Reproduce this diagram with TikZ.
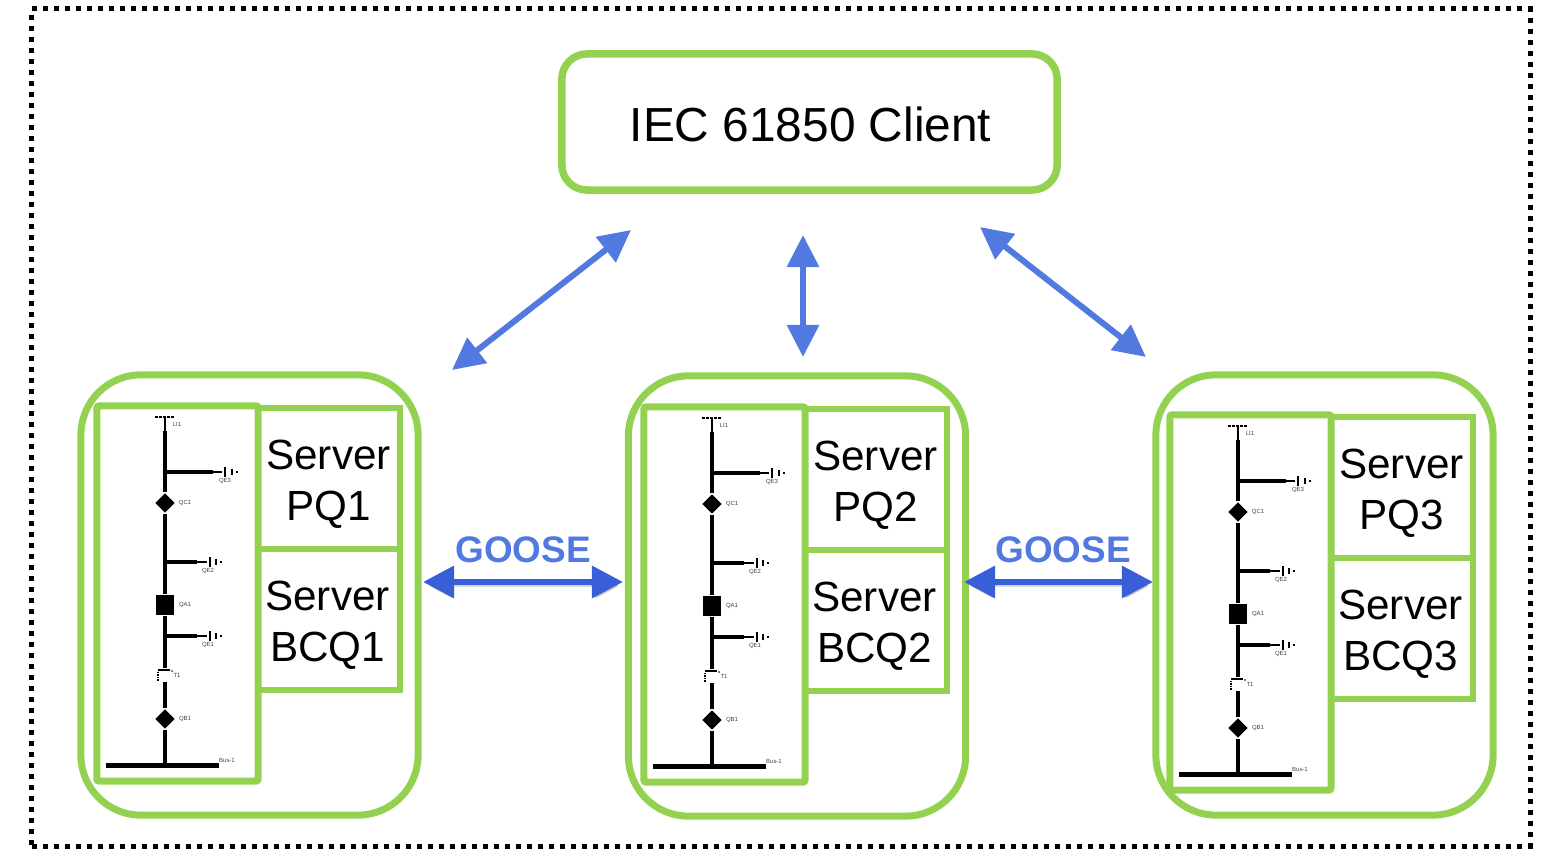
\documentclass[tikz,border=0pt]{standalone}
\usepackage{fontspec}
\setmainfont{Liberation Sans}
\usepackage{xcolor}
\definecolor{Green}{RGB}{146,210,80}
\definecolor{LightBlue}{RGB}{82,121,224}
\definecolor{DarkBlue}{RGB}{56,94,216}
\usetikzlibrary{arrows.meta, shapes.geometric}
\tikzset{
	frameBox/.style={draw=black, line width=0.05cm, dash pattern=on 0.05cm off 0.06cm, minimum width=14.98cm, minimum height=8.37cm, inner sep=0pt},
	clientBox/.style={draw=Green, line width=0.075cm, rounded corners=0.25cm, minimum width=4.95cm, minimum height=1.36cm},
	clientText/.style={inner sep=0pt, font=\fontsize{13.6}{16}\selectfont},
	unitBox/.style={draw=Green, line width=0.07cm, rounded corners=0.6cm, minimum width=3.37cm, minimum height=4.4cm},
	bayBox/.style={draw=Green, line width=0.07cm, rounded corners=0.02cm, minimum width=1.61cm, minimum height=3.75cm},
	serverBox/.style={draw=Green, line width=0.055cm, minimum width=1.42cm, minimum height=1.41cm, inner sep=0pt},
	serverText/.style={align=center, inner sep=0pt, font=\fontsize{12}{14.5}\selectfont},
	gooseText/.style={text=LightBlue, font=\fontsize{10.5}{12}\selectfont\bfseries, inner sep=0pt},
	clientArrow/.style={{Triangle[length=0.32cm, width=0.31cm]}-{Triangle[length=0.32cm, width=0.31cm]}, draw=LightBlue, fill=LightBlue, line width=0.06cm},
	gooseArrow/.style={{Triangle[length=0.31cm, width=0.31cm]}-{Triangle[length=0.31cm, width=0.31cm]}, draw=DarkBlue, fill=DarkBlue, line width=0.06cm,
		preaction={draw=black, fill=black, opacity=0.15, transform canvas={shift={(1,4)}}}},
	thickLine/.style={line width=0.035cm},
	thinLine/.style={line width=0.012cm},
	groundBar/.style={line width=0.012cm},
	tinyLabel/.style={text=black!75, font=\fontsize{1.7}{2}\selectfont, inner sep=0pt},
	switchGear/.style={diamond, fill=black, minimum size=0.2cm, inner sep=0pt},
	breaker/.style={rectangle, fill=black, minimum width=0.17cm, minimum height=0.2cm, inner sep=0pt},
	busBar/.style={rectangle, fill=black, minimum width=1.13cm, minimum height=0.05cm, inner sep=0pt},
	pics/bayunit/.style={code={
		% Rectangle
		\node[bayBox] (bay) at (177.5,593.5) {};
		\node[serverBox] (pq) at (329,478.5) {};
		\node[serverBox] (bcq) at (329,619.5) {};
		
		% Text
		\node[serverText] (pqText) at (328.5,484.5) {Server\\PQ#1};
		\node[serverText] (bcqText) at (327.5,625.5) {Server\\BCQ#1};
		
		% Single line
		\coordinate (source) at (165,417);
		\coordinate (spine) at (165,431);
		\coordinate (swtop) at (165,668);
		\coordinate (swbot) at (165,682);
		\node[switchGear] (qc) at (165,503) {};
		\node[breaker] (qa) at (165,605) {};
		\node[switchGear] (qb) at (165,719) {};
		\node[busBar] (bus) at (162.5,766) {};
		\draw[thinLine] (source) -- (spine);
		\draw[line width=0.02cm, dash pattern=on 0.03cm off 0.01cm] (155,417) -- (174,417);
		\draw[thickLine] (spine) -- (qc);
		\draw[thickLine] (qc) -- (qa);
		\draw[thickLine] (qa) -- (swtop);
		\draw[thickLine] (swbot) -- (qb);
		\draw[thickLine] (qb) -- (bus.north -| qb);
		\draw[thinLine] (158,670) -- (170,670);
		\draw[thinLine] (172,671) circle (0.015);
		\draw[line width=0.02cm, dash pattern=on 0.015cm off 0.01cm] (158,672) -- (158,682);
		
		% Earth switches
		\coordinate (qeThree) at (213,472);
		\coordinate (qeTwo) at (197,562);
		\coordinate (qeOne) at (197,636);
		\draw[thickLine] (165,472) -- (qeThree);
		\draw[thinLine] (qeThree) -- ++(9,0);
		\draw[groundBar] (225,467) -- (225,477) (232,469) -- (232,475) (237,471) -- (237,473);
		\draw[thickLine] (165,562) -- (qeTwo);
		\draw[thinLine] (qeTwo) -- ++(10,0);
		\draw[groundBar] (210,557) -- (210,567) (216,559) -- (216,565) (221,561) -- (221,563);
		\draw[thickLine] (165,636) -- (qeOne);
		\draw[thinLine] (qeOne) -- ++(10,0);
		\draw[groundBar] (210,631) -- (210,641) (216,633) -- (216,639) (221,635) -- (221,637);
		
		% Labels
		\node[tinyLabel] (lbllf) at (177,424) {LI1};
		\node[tinyLabel] (lblqethree) at (225,481) {QE3};
		\node[tinyLabel] (lblqc) at (185,503) {QC1};
		\node[tinyLabel] (lblqetwo) at (208,571) {QE2};
		\node[tinyLabel] (lblqa) at (185,605) {QA1};
		\node[tinyLabel] (lblqeone) at (208,645) {QE1};
		\node[tinyLabel] (lblt) at (177,675) {T1};
		\node[tinyLabel] (lblqb) at (185,719) {QB1};
		\node[tinyLabel] (lblbus) at (227,760) {Bus-1};
	}},
}
\begin{document}
\begin{tikzpicture}[x=0.01cm, y=-0.01cm]
		\useasboundingbox (0,0) rectangle (1541,849);
		
		% Rectangle
		\node[frameBox] (frame) at (781,427.5) {};
		\node[clientBox] (client) at (809.5,122) {};
		\node[unitBox] (unitOne) at (249.5,595) {};
		\node[unitBox] (unitTwo) at (797,596) {};
		\node[unitBox] (unitThree) at (1324.5,595) {};
		
		% Servers
		\pic (bayOne) at (0,0) {bayunit=1};
		\pic (bayTwo) at (547,1) {bayunit=2};
		\pic (bayThree) at (1073,9) {bayunit=3};
		
		% Text
		\node[clientText] (clientName) at (810.5,124) {IEC 61850 Client};
		\node[gooseText] (gooseLeft) at (523,550) {GOOSE};
		\node[gooseText] (gooseRight) at (1063,550) {GOOSE};
		
		% Arrow ends
		\coordinate (clientLeft) at (631,230);
		\coordinate (unitLeft) at (452,370);
		\coordinate (clientMid) at (803,235);
		\coordinate (unitMid) at (803,357);
		\coordinate (clientRight) at (980,227);
		\coordinate (unitRight) at (1146,357);
		\coordinate (gooseA) at (423,582);
		\coordinate (gooseB) at (623,582);
		\coordinate (gooseC) at (964,582);
		\coordinate (gooseD) at (1153,582);
		
		% Lines
		\draw[clientArrow] (unitLeft) -- (clientLeft);
		\draw[clientArrow] (clientMid) -- (unitMid);
		\draw[clientArrow] (clientRight) -- (unitRight);
		\draw[gooseArrow] (gooseA) -- (gooseB);
		\draw[gooseArrow] (gooseC) -- (gooseD);
		
	\end{tikzpicture}
\end{document}
